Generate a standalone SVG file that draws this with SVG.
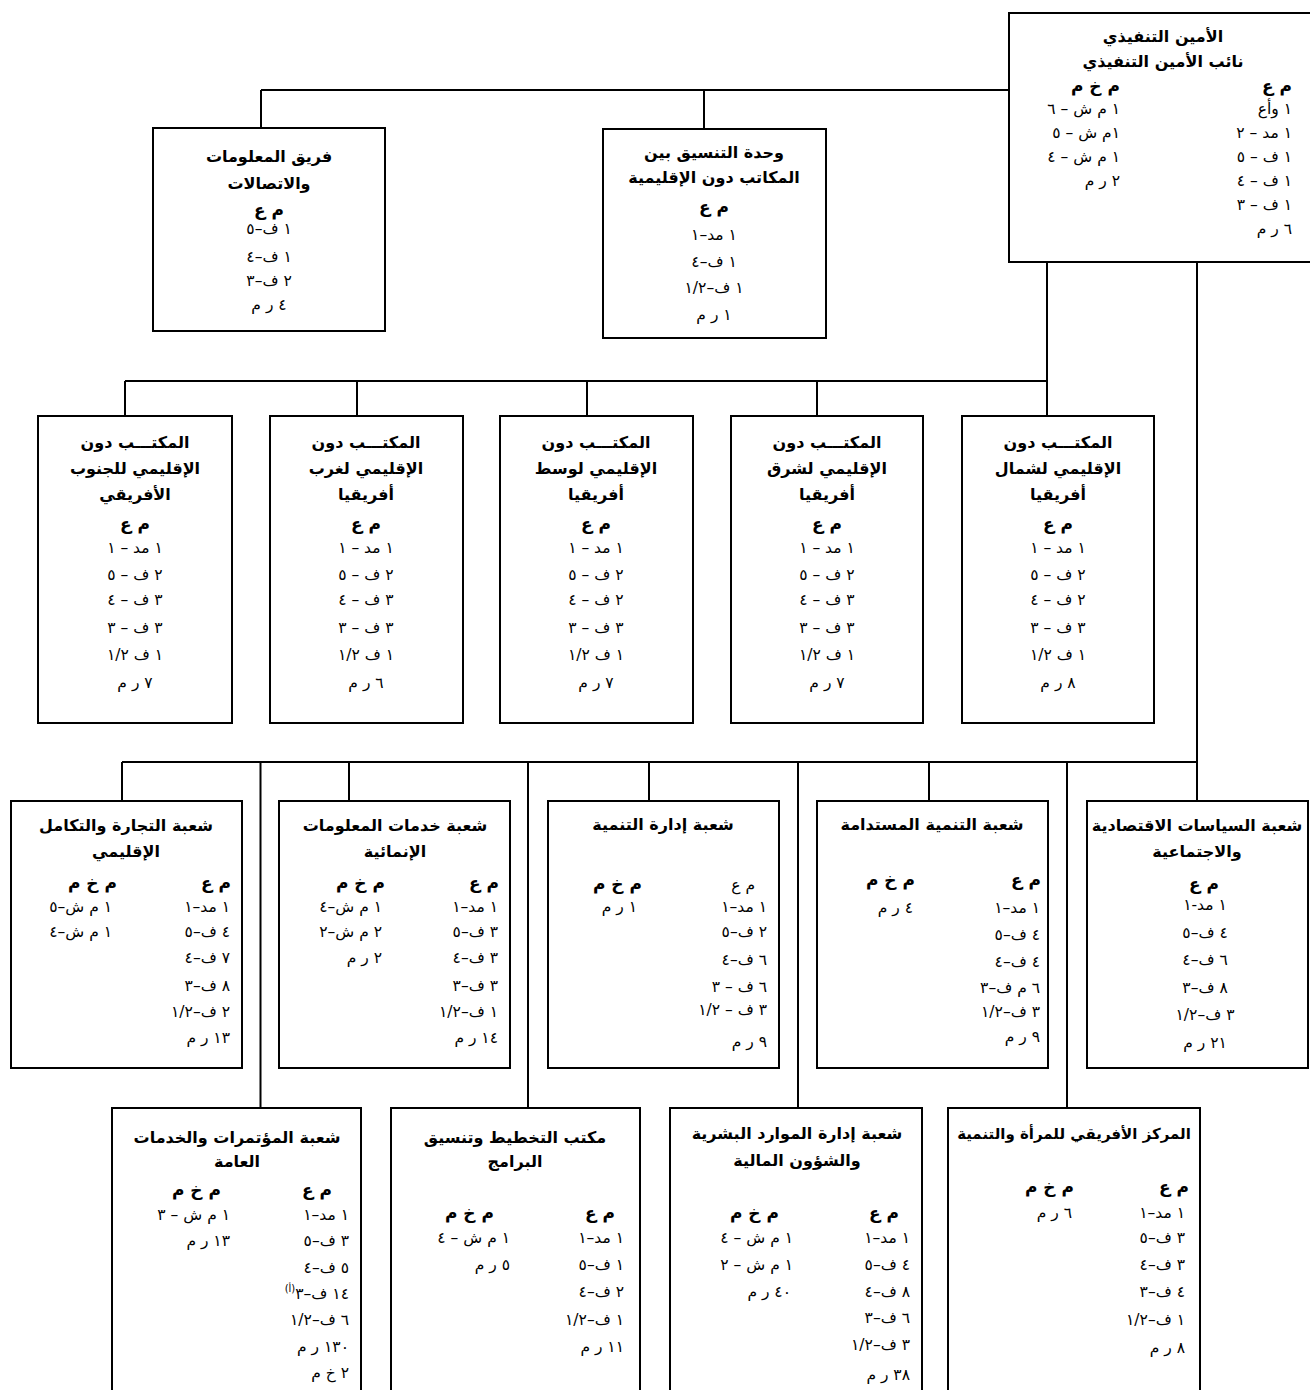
<svg xmlns="http://www.w3.org/2000/svg" width="1310" height="1390" viewBox="0 0 1310 1390">
<style>
.box{fill:#fff;stroke:#000;stroke-width:2}
.ln{fill:none;stroke:#000;stroke-width:2}
text{font-family:'DejaVu Sans',sans-serif;direction:rtl;fill:#000}
.t{font-size:16px;font-weight:bold;text-anchor:middle}
.h{font-size:17px;font-weight:bold}
.i{font-size:15.5px}
.c{text-anchor:middle}
.r{text-anchor:start}
.sup{font-size:10px}
</style>
<rect width="1310" height="1390" fill="#fff"/>
<g id="connectors">
<path class="ln" d="M261 90 H1009 M261 90 V128 M704 90 V129 M1047 262 V416 M125 381 H1047 M125 381 V416 M357 381 V416 M587 381 V416 M817 381 V416 M1197 262 V801 M122 762 H1197 M122 762 V801 M349 762 V801 M649 762 V801 M929 762 V801 M260.5 762 V1108 M528 762 V1108 M798 762 V1108 M1067 762 V1108"/>
</g>

<g id="n-exec">
<rect class="box" x="1009" y="13" width="312" height="249"/>
<text class="t" x="1163" y="42">الأمين التنفيذي</text>
<text class="t" x="1163" y="67">نائب الأمين التنفيذي</text>
<text class="h r" x="1292" y="92">م ع</text>
<text class="i r" x="1292" y="114">١ وأع</text>
<text class="i r" x="1292" y="138">١ مد – ٢</text>
<text class="i r" x="1292" y="162">١ ف – ٥</text>
<text class="i r" x="1292" y="186">١ ف – ٤</text>
<text class="i r" x="1292" y="210">١ ف – ٣</text>
<text class="i r" x="1292" y="234">٦ ر م</text>
<text class="h r" x="1120" y="92">م خ م</text>
<text class="i r" x="1120" y="114">١ م ش – ٦</text>
<text class="i r" x="1120" y="138">١م ش – ٥</text>
<text class="i r" x="1120" y="162">١ م ش – ٤</text>
<text class="i r" x="1120" y="186">٢ ر م</text>
</g>

<g id="n-ict">
<rect class="box" x="153" y="128" width="232" height="203"/>
<text class="t" x="269" y="162">فريق المعلومات</text>
<text class="t" x="269" y="189">والاتصالات</text>
<text class="h c" x="269" y="216">م ع</text>
<text class="i c" x="269" y="234">١ ف–٥</text>
<text class="i c" x="269" y="262">١ ف–٤</text>
<text class="i c" x="269" y="286">٢ ف–٣</text>
<text class="i c" x="269" y="310">٤ ر م</text>
</g>

<g id="n-coord">
<rect class="box" x="603" y="129" width="223" height="209"/>
<text class="t" x="714" y="158">وحدة التنسيق بين</text>
<text class="t" x="714" y="183">المكاتب دون الإقليمية</text>
<text class="h c" x="714" y="213">م ع</text>
<text class="i c" x="714" y="240">١ مد–١</text>
<text class="i c" x="714" y="267">١ ف–٤</text>
<text class="i c" x="714" y="293">١ ف–١/٢</text>
<text class="i c" x="714" y="320">١ ر م</text>
</g>

<g id="n-sro-south">
<rect class="box" x="38" y="416" width="194" height="307"/>
<text class="t" x="135" y="448">المكتـــب دون</text>
<text class="t" x="135" y="474">الإقليمي للجنوب</text>
<text class="t" x="135" y="500">الأفريقي</text>
<text class="h c" x="135" y="530">م ع</text>
<text class="i c" x="135" y="553">١ مد – ١</text>
<text class="i c" x="135" y="580">٢ ف – ٥</text>
<text class="i c" x="135" y="605">٣ ف – ٤</text>
<text class="i c" x="135" y="633">٣ ف – ٣</text>
<text class="i c" x="135" y="660">١ ف ١/٢</text>
<text class="i c" x="135" y="688">٧ ر م</text>
</g>

<g id="n-sro-west">
<rect class="box" x="270" y="416" width="193" height="307"/>
<text class="t" x="366" y="448">المكتـــب دون</text>
<text class="t" x="366" y="474">الإقليمي لغرب</text>
<text class="t" x="366" y="500">أفريقيا</text>
<text class="h c" x="366" y="530">م ع</text>
<text class="i c" x="366" y="553">١ مد – ١</text>
<text class="i c" x="366" y="580">٢ ف – ٥</text>
<text class="i c" x="366" y="605">٣ ف – ٤</text>
<text class="i c" x="366" y="633">٣ ف – ٣</text>
<text class="i c" x="366" y="660">١ ف ١/٢</text>
<text class="i c" x="366" y="688">٦ ر م</text>
</g>

<g id="n-sro-central">
<rect class="box" x="500" y="416" width="193" height="307"/>
<text class="t" x="596" y="448">المكتـــب دون</text>
<text class="t" x="596" y="474">الإقليمي لوسط</text>
<text class="t" x="596" y="500">أفريقيا</text>
<text class="h c" x="596" y="530">م ع</text>
<text class="i c" x="596" y="553">١ مد – ١</text>
<text class="i c" x="596" y="580">٢ ف – ٥</text>
<text class="i c" x="596" y="605">٢ ف – ٤</text>
<text class="i c" x="596" y="633">٣ ف – ٣</text>
<text class="i c" x="596" y="660">١ ف ١/٢</text>
<text class="i c" x="596" y="688">٧ ر م</text>
</g>

<g id="n-sro-east">
<rect class="box" x="731" y="416" width="192" height="307"/>
<text class="t" x="827" y="448">المكتـــب دون</text>
<text class="t" x="827" y="474">الإقليمي لشرق</text>
<text class="t" x="827" y="500">أفريقيا</text>
<text class="h c" x="827" y="530">م ع</text>
<text class="i c" x="827" y="553">١ مد – ١</text>
<text class="i c" x="827" y="580">٢ ف – ٥</text>
<text class="i c" x="827" y="605">٣ ف – ٤</text>
<text class="i c" x="827" y="633">٣ ف – ٣</text>
<text class="i c" x="827" y="660">١ ف ١/٢</text>
<text class="i c" x="827" y="688">٧ ر م</text>
</g>

<g id="n-sro-north">
<rect class="box" x="962" y="416" width="192" height="307"/>
<text class="t" x="1058" y="448">المكتـــب دون</text>
<text class="t" x="1058" y="474">الإقليمي لشمال</text>
<text class="t" x="1058" y="500">أفريقيا</text>
<text class="h c" x="1058" y="530">م ع</text>
<text class="i c" x="1058" y="553">١ مد – ١</text>
<text class="i c" x="1058" y="580">٢ ف – ٥</text>
<text class="i c" x="1058" y="605">٢ ف – ٤</text>
<text class="i c" x="1058" y="633">٣ ف – ٣</text>
<text class="i c" x="1058" y="660">١ ف ١/٢</text>
<text class="i c" x="1058" y="688">٨ ر م</text>
</g>

<g id="n-trade">
<rect class="box" x="11" y="801" width="231" height="267"/>
<text class="t" x="126" y="831">شعبة التجارة والتكامل</text>
<text class="t" x="126" y="857">الإقليمي</text>
<text class="h r" x="231" y="889">م ع</text>
<text class="i r" x="230" y="912">١ مد–١</text>
<text class="i r" x="230" y="937">٤ ف–٥</text>
<text class="i r" x="230" y="963">٧ ف–٤</text>
<text class="i r" x="230" y="991">٨ ف–٣</text>
<text class="i r" x="230" y="1017">٢ ف–١/٢</text>
<text class="i r" x="230" y="1043">١٣ ر م</text>
<text class="h r" x="117" y="889">م خ م</text>
<text class="i r" x="112" y="912">١ م ش–٥</text>
<text class="i r" x="112" y="937">١ م ش–٤</text>
</g>

<g id="n-infoserv">
<rect class="box" x="279" y="801" width="231" height="267"/>
<text class="t" x="395" y="831">شعبة خدمات المعلومات</text>
<text class="t" x="395" y="857">الإنمائية</text>
<text class="h r" x="499" y="889">م ع</text>
<text class="i r" x="498" y="912">١ مد–١</text>
<text class="i r" x="498" y="937">٣ ف–٥</text>
<text class="i r" x="498" y="963">٣ ف–٤</text>
<text class="i r" x="498" y="991">٣ ف–٣</text>
<text class="i r" x="498" y="1017">١ ف–١/٢</text>
<text class="i r" x="498" y="1043">١٤ ر م</text>
<text class="h r" x="385" y="889">م خ م</text>
<text class="i r" x="382" y="912">١ م ش–٤</text>
<text class="i r" x="382" y="937">٢ م ش–٢</text>
<text class="i r" x="382" y="963">٢ ر م</text>
</g>

<g id="n-devman">
<rect class="box" x="548" y="801" width="231" height="267"/>
<text class="t" x="663" y="830">شعبة إدارة التنمية</text>
<text class="i r" x="755" y="890">م ع</text>
<text class="h r" x="642" y="890">م خ م</text>
<text class="i r" x="767" y="912">١ مد–١</text>
<text class="i r" x="767" y="937">٢ ف–٥</text>
<text class="i r" x="767" y="965">٦ ف–٤</text>
<text class="i r" x="767" y="992">٦ ف – ٣</text>
<text class="i r" x="767" y="1015">٣ ف – ١/٢</text>
<text class="i r" x="767" y="1047">٩ ر م</text>
<text class="i r" x="637" y="912">١ ر م</text>
</g>

<g id="n-sustdev">
<rect class="box" x="817" y="801" width="231" height="267"/>
<text class="t" x="932" y="830">شعبة التنمية المستدامة</text>
<text class="h r" x="1041" y="886">م ع</text>
<text class="h r" x="915" y="886">م خ م</text>
<text class="i r" x="1040" y="913">١ مد–١</text>
<text class="i r" x="1040" y="940">٤ ف–٥</text>
<text class="i r" x="1040" y="967">٤ ف–٤</text>
<text class="i r" x="1040" y="993">٦ م ف–٣</text>
<text class="i r" x="1040" y="1017">٣ ف–١/٢</text>
<text class="i r" x="1040" y="1042">٩ ر م</text>
<text class="i r" x="913" y="913">٤ ر م</text>
</g>

<g id="n-econ">
<rect class="box" x="1087" y="801" width="221" height="267"/>
<text class="t" x="1197" y="831">شعبة السياسات الاقتصادية</text>
<text class="t" x="1197" y="857">والاجتماعية</text>
<text class="h c" x="1204" y="890">م ع</text>
<text class="i c" x="1205" y="910">١ مد-١</text>
<text class="i c" x="1205" y="938">٤ ف–٥</text>
<text class="i c" x="1205" y="965">٦ ف–٤</text>
<text class="i c" x="1205" y="993">٨ ف–٣</text>
<text class="i c" x="1205" y="1020">٣ ف–١/٢</text>
<text class="i c" x="1205" y="1048">٢١ ر م</text>
</g>

<g id="n-conf">
<rect class="box" x="112" y="1108" width="249" height="300"/>
<text class="t" x="237" y="1143">شعبة المؤتمرات والخدمات</text>
<text class="t" x="237" y="1167">العامة</text>
<text class="h r" x="332" y="1196">م ع</text>
<text class="h r" x="221" y="1196">م خ م</text>
<text class="i r" x="349" y="1220">١ مد–١</text>
<text class="i r" x="349" y="1246">٣ ف–٥</text>
<text class="i r" x="349" y="1273">٥ ف–٤</text>
<text class="i r" x="349" y="1299">١٤ ف–٣<tspan class="sup" dy="-7">(أ)</tspan></text>
<text class="i r" x="349" y="1325">٦ ف–١/٢</text>
<text class="i r" x="349" y="1352">١٣٠ ر م</text>
<text class="i r" x="349" y="1378">٢ خ م</text>
<text class="i r" x="230" y="1220">١ م ش – ٣</text>
<text class="i r" x="230" y="1246">١٣ ر م</text>
</g>

<g id="n-plan">
<rect class="box" x="391" y="1108" width="249" height="300"/>
<text class="t" x="515" y="1143">مكتب التخطيط وتنسيق</text>
<text class="t" x="515" y="1167">البرامج</text>
<text class="h r" x="615" y="1219">م ع</text>
<text class="h r" x="494" y="1219">م خ م</text>
<text class="i r" x="624" y="1243">١ مد–١</text>
<text class="i r" x="624" y="1270">١ ف–٥</text>
<text class="i r" x="624" y="1297">٢ ف–٤</text>
<text class="i r" x="624" y="1325">١ ف–١/٢</text>
<text class="i r" x="624" y="1352">١١ ر م</text>
<text class="i r" x="510" y="1243">١ م ش – ٤</text>
<text class="i r" x="510" y="1270">٥ ر م</text>
</g>

<g id="n-hr">
<rect class="box" x="670" y="1108" width="252" height="300"/>
<text class="t" x="797" y="1139">شعبة إدارة الموارد البشرية</text>
<text class="t" x="797" y="1166">والشؤون المالية</text>
<text class="h r" x="899" y="1219">م ع</text>
<text class="h r" x="779" y="1219">م خ م</text>
<text class="i r" x="910" y="1243">١ مد–١</text>
<text class="i r" x="910" y="1270">٤ ف–٥</text>
<text class="i r" x="910" y="1297">٨ ف–٤</text>
<text class="i r" x="910" y="1323">٦ ف–٣</text>
<text class="i r" x="910" y="1350">٣ ف–١/٢</text>
<text class="i r" x="910" y="1380">٣٨ ر م</text>
<text class="i r" x="793" y="1243">١ م ش – ٤</text>
<text class="i r" x="793" y="1270">١ م ش – ٢</text>
<text class="i r" x="791" y="1297">٤٠ ر م</text>
</g>

<g id="n-women">
<rect class="box" x="948" y="1108" width="252" height="300"/>
<text class="t" x="1074" y="1139" style="font-size:15px">المركز الأفريقي للمرأة والتنمية</text>
<text class="h r" x="1189" y="1193">م ع</text>
<text class="h r" x="1074" y="1193">م خ م</text>
<text class="i r" x="1185" y="1218">١ مد–١</text>
<text class="i r" x="1185" y="1243">٣ ف–٥</text>
<text class="i r" x="1185" y="1270">٣ ف–٤</text>
<text class="i r" x="1185" y="1297">٤ ف–٣</text>
<text class="i r" x="1185" y="1325">١ ف–١/٢</text>
<text class="i r" x="1185" y="1353">٨ ر م</text>
<text class="i r" x="1072" y="1218">٦ ر م</text>
</g>
</svg>
